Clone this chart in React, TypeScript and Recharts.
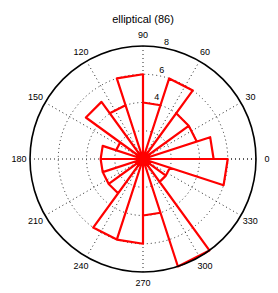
import React from 'react';
import { RadarChart, PolarGrid, PolarAngleAxis, PolarRadiusAxis, Radar } from 'recharts';

// Rose histogram: 20 bins of 18 degrees, counts per bin
const binStarts = [0, 18, 36, 54, 72, 90, 108, 126, 144, 162, 180, 198, 216, 234, 252, 270, 288, 306, 324, 342];
const binCounts = [5, 4, 4, 6, 4, 6, 4, 5, 2, 3, 3, 3, 3, 6, 6, 4, 8, 2, 2, 6];
const binWidth = 18;
const radiusLabels = [4, 6, 8];
const title = 'elliptical (86)';

const roseRows = binStarts.flatMap((s, i) => [
  { angle: s, r: 0 },
  { angle: s, r: binCounts[i] },
  { angle: s + binWidth, r: binCounts[i] },
]);

const FONT = '"Liberation Sans", Arial, Helvetica, sans-serif';
const OUTER = 113;

const AngleTick = (props: any) => {
  const { x, y, payload } = props;
  if (payload.value >= 360) return <g />;
  return (
    <text x={x} y={y} textAnchor="middle" dominantBaseline="central" fontSize={9} fill="#000" fontFamily={FONT}>
      {payload.value}
    </text>
  );
};

const RadiusTick = (props: any) => {
  const { x, y, payload } = props;
  if (!radiusLabels.includes(payload.value)) return <g />;
  return (
    <text x={x + 4} y={y - 6} textAnchor="middle" dominantBaseline="central" fontSize={9} fill="#000" fontFamily={FONT}>
      {payload.value}
    </text>
  );
};

export default function App() {
  return (
    <div style={{ position: 'relative', width: 270, height: 285 }}>
      <RadarChart
        width={270}
        height={285}
        data={roseRows}
        cx={135}
        cy={151}
        outerRadius={OUTER}
        startAngle={0}
        endAngle={360}
        margin={{ top: 0, right: 0, bottom: 0, left: 0 }}
      >
        <PolarGrid
          gridType="circle"
          polarRadius={[OUTER / 4, OUTER / 2, (OUTER * 3) / 4]}
          stroke="#222"
          strokeWidth={1}
          strokeDasharray="1 3"
        />
        <PolarAngleAxis
          dataKey="angle"
          type="number"
          domain={[0, 360]}
          tickCount={13}
          allowDecimals={false}
          axisLineType="circle"
          axisLine={{ stroke: '#000', strokeWidth: 1.6 }}
          tickLine={false}
          tickSize={11}
          tick={AngleTick}
        />
        <PolarRadiusAxis
          angle={80}
          type="number"
          domain={[0, 8]}
          tickCount={5}
          axisLine={false}
          tickLine={false}
          tick={RadiusTick}
        />
        <Radar
          dataKey="r"
          stroke="#ff0000"
          strokeWidth={2.2}
          strokeLinejoin="round"
          fill="none"
          fillOpacity={0}
          dot={false}
          isAnimationActive={false}
        />
      </RadarChart>
      <svg width={270} height={30} style={{ position: 'absolute', left: 0, top: 0, pointerEvents: 'none' }}>
        <text x={135} y={14.5} textAnchor="middle" fontSize={11} fill="#000" fontFamily={FONT}>
          {title}
        </text>
      </svg>
    </div>
  );
}
